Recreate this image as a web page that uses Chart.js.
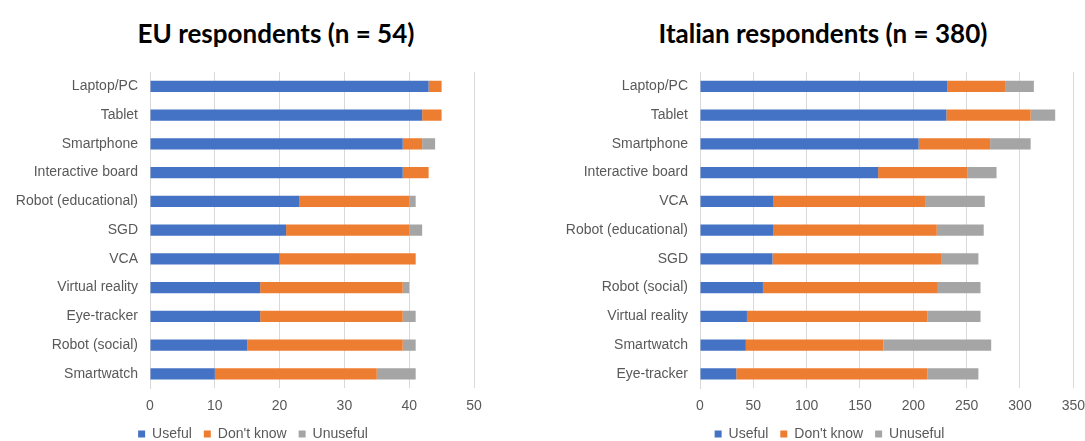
<!DOCTYPE html>
<html lang="en">
<head>
  <meta charset="UTF-8">
  <title>Usefulness of digital tools</title>
  <script src="https://cdn.jsdelivr.net/npm/chart.js"></script>
  <style>
    body { margin: 0; background: #fff; overflow: hidden; }
    .title {
      position: absolute; top: 17px; margin: 0;
      font: bold 26px Lato, "Liberation Sans", sans-serif;
      color: #000; text-align: center; white-space: nowrap;
    }
    canvas { position: absolute; top: 0; }
  </style>
</head>
<body>
  <h2 class="title" style="left:0; width:552px;">EU respondents (n = 54)</h2>
  <h2 class="title" style="left:620px; width:406px;">Italian respondents (n = 380)</h2>

  <canvas id="euChart" width="506" height="461" style="left:0"></canvas>
  <canvas id="itChart" width="535" height="461" style="left:560px"></canvas>

  <script>
    const seriesNames = ['Useful', "Don't know", 'Unuseful'];

    // EU respondents
    const euTools = ['Laptop/PC', 'Tablet', 'Smartphone', 'Interactive board', 'Robot (educational)',
      'SGD', 'VCA', 'Virtual reality', 'Eye-tracker', 'Robot (social)', 'Smartwatch'];
    const euUseful   = [43, 42, 39, 39, 23, 21, 20, 17, 17, 15, 10];
    const euDontKnow = [2, 3, 3, 4, 17, 19, 21, 22, 22, 24, 25];
    const euUnuseful = [0, 0, 2, 0, 1, 2, 0, 1, 2, 2, 6];
    const euAxis = { max: 50, step: 10 };

    // Italian respondents
    const itTools = ['Laptop/PC', 'Tablet', 'Smartphone', 'Interactive board', 'VCA',
      'Robot (educational)', 'SGD', 'Robot (social)', 'Virtual reality', 'Smartwatch', 'Eye-tracker'];
    const itUseful   = [232, 231, 205, 167, 69, 69, 68, 59, 44, 43, 34];
    const itDontKnow = [54, 79, 67, 84, 142, 153, 158, 164, 169, 129, 179];
    const itUnuseful = [27, 23, 38, 27, 56, 44, 35, 40, 50, 101, 48];
    const itAxis = { max: 350, step: 50 };

    const colors = ['#4472C4', '#ED7D31', '#A5A5A5'];
    const textColor = '#595959';
    const font = { family: '"Liberation Sans", Arial, sans-serif', size: 14 };

    // move the legend box once the layout is done
    const legendShift = {
      id: 'legendShift',
      afterLayout(chart, args, opts) {
        const lg = chart.legend;
        if (!lg) return;
        lg.left += opts.dx || 0;
        lg.right += opts.dx || 0;
        lg.top += opts.dy || 0;
        lg.bottom += opts.dy || 0;
      }
    };

    function buildChart(id, tools, values, axis, yWidth, padRight, dx) {
      const ctx = document.getElementById(id).getContext('2d');
      return new Chart(ctx, {
        type: 'bar',
        data: {
          labels: tools,
          datasets: values.map((v, i) => ({
            label: seriesNames[i],
            data: v,
            backgroundColor: colors[i],
            barPercentage: 0.39,
            categoryPercentage: 1
          }))
        },
        options: {
          indexAxis: 'y',
          responsive: false,
          animation: false,
          layout: { padding: { top: 72, right: padRight, bottom: 0, left: 0 } },
          scales: {
            x: {
              stacked: true,
              min: 0,
              max: axis.max,
              ticks: { stepSize: axis.step, color: textColor, font: font, padding: 10 },
              grid: { color: '#D9D9D9', drawTicks: false },
              border: { display: false }
            },
            y: {
              stacked: true,
              ticks: { color: textColor, font: font, padding: 12 },
              grid: { display: false, drawTicks: false },
              border: { display: true, color: '#D9D9D9' },
              afterFit: scale => { scale.width = yWidth; }
            }
          },
          plugins: {
            legend: {
              position: 'bottom',
              labels: { boxWidth: 7, boxHeight: 7, color: textColor, font: font, padding: 12 }
            },
            legendShift: { dx: dx, dy: -10 },
            tooltip: { enabled: false }
          }
        },
        plugins: [legendShift]
      });
    }

    buildChart('euChart', euTools, [euUseful, euDontKnow, euUnuseful], euAxis, 150, 32, 16);
    buildChart('itChart', itTools, [itUseful, itDontKnow, itUnuseful], itAxis, 140, 8, 6);
  </script>
</body>
</html>
